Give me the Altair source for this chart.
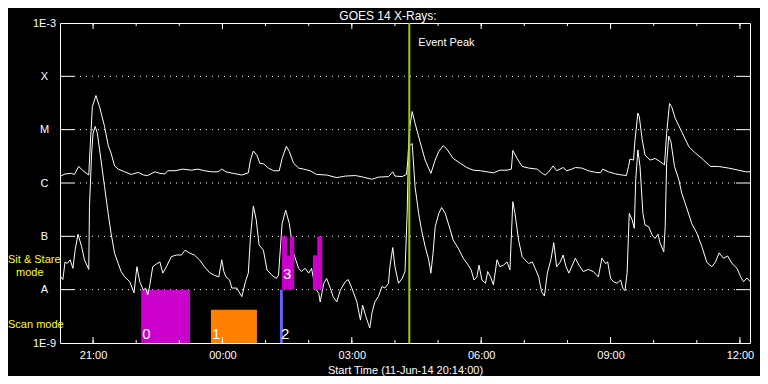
import altair as alt
import pandas as pd

FONT = "Liberation Sans"
W, H = 690, 320

# ---- GOES 14 long channel (1-8 A): minutes after 11-Jun-14 20:14, log10 flux (W/m^2)
long_min = [1, 7, 16, 20, 26, 32, 40, 42, 45, 50,
            55, 62, 67, 71, 76, 81, 90, 99, 109, 116,
            122, 132, 139, 146, 150, 160, 171, 183, 192, 201,
            211, 220, 225, 231, 241, 253, 262, 265, 269, 274,
            278, 283, 290, 297, 305, 309, 315, 319, 325, 332,
            339, 348, 357, 371, 385, 397, 411, 422, 434, 443,
            457, 463, 466, 476, 482, 484, 486, 490, 494, 501,
            508, 516, 522, 527, 533, 538, 547, 557, 566, 575,
            585, 594, 603, 612, 622, 628, 630, 636, 643, 652,
            664, 671, 675, 680, 686, 691, 700, 705, 712, 717,
            726, 735, 745, 752, 755, 763, 773, 782, 788, 791,
            793, 798, 800, 804, 806, 810, 814, 821, 828, 835,
            841, 844, 848, 851, 856, 865, 875, 884, 893, 905,
            916, 930, 944, 954, 960]
long_log = [-5.87, -5.83, -5.82, -5.84, -5.69, -5.77, -5.85, -5.32, -4.57, -4.36,
            -4.57, -4.94, -5.29, -5.44, -5.68, -5.74, -5.79, -5.84, -5.80, -5.85,
            -5.86, -5.79, -5.82, -5.83, -5.77, -5.77, -5.74, -5.76, -5.74, -5.77,
            -5.79, -5.79, -5.74, -5.79, -5.82, -5.85, -5.81, -5.57, -5.40, -5.48,
            -5.63, -5.64, -5.72, -5.77, -5.77, -5.54, -5.31, -5.41, -5.63, -5.72,
            -5.74, -5.77, -5.84, -5.85, -5.90, -5.87, -5.86, -5.89, -5.93, -5.89,
            -5.88, -5.79, -5.87, -5.88, -5.84, -5.57, -5.01, -4.66, -4.88, -5.23,
            -5.57, -5.82, -5.57, -5.41, -5.30, -5.36, -5.54, -5.63, -5.71, -5.76,
            -5.77, -5.79, -5.81, -5.76, -5.76, -5.74, -5.39, -5.54, -5.69, -5.72,
            -5.74, -5.82, -5.85, -5.79, -5.68, -5.77, -5.71, -5.77, -5.74, -5.71,
            -5.72, -5.77, -5.80, -5.81, -5.74, -5.79, -5.83, -5.85, -5.86, -5.69,
            -5.55, -5.57, -5.19, -4.69, -4.76, -5.19, -5.48, -5.57, -5.54, -5.60,
            -5.66, -5.07, -4.51, -4.57, -4.79, -5.04, -5.32, -5.44, -5.54, -5.69,
            -5.69, -5.72, -5.76, -5.79, -5.79]

# ---- GOES 14 short channel (0.5-4 A)
short_min = [1, 4, 7, 10, 14, 18, 21, 25, 30, 34,
             40, 41, 44, 46, 49, 52, 57, 62, 67, 71,
             76, 81, 85, 90, 97, 103, 107, 111, 116, 119,
             122, 125, 129, 134, 139, 143, 148, 155, 162, 169,
             174, 181, 187, 194, 201, 208, 215, 221, 225, 228,
             231, 236, 239, 246, 253, 258, 262, 265, 269, 273,
             277, 283, 288, 295, 301, 304, 309, 314, 319, 325,
             332, 336, 341, 346, 350, 355, 360, 362, 367, 371,
             376, 380, 385, 390, 397, 401, 406, 413, 418, 421,
             425, 431, 434, 438, 443, 448, 452, 457, 459, 463,
             466, 471, 476, 480, 483, 485, 490, 494, 499, 503,
             508, 513, 516, 519, 522, 527, 531, 536, 543, 547,
             554, 561, 568, 572, 576, 580, 583, 587, 592, 595,
             599, 603, 608, 612, 617, 622, 626, 630, 633, 638,
             643, 647, 652, 657, 661, 666, 670, 674, 678, 683,
             687, 691, 696, 700, 704, 708, 717, 722, 728, 735,
             742, 749, 754, 759, 762, 766, 770, 775, 780, 783,
             786, 789, 792, 796, 799, 801, 804, 807, 811, 814,
             819, 824, 828, 832, 835, 840, 842, 844, 847, 850,
             855, 861, 865, 872, 879, 886, 893, 900, 907, 912,
             917, 923, 929, 935, 942, 947, 951, 956, 960]
short_log = [-7.76, -7.81, -7.48, -7.51, -7.44, -7.60, -7.26, -6.96, -7.19, -7.44,
             -7.62, -6.44, -5.44, -5.07, -4.94, -5.07, -5.57, -6.07, -6.57, -6.94,
             -7.32, -7.51, -7.66, -7.76, -7.85, -8.06, -7.57, -7.85, -8.01, -7.97,
             -8.10, -7.91, -7.57, -7.52, -7.48, -7.69, -7.57, -7.38, -7.35, -7.35,
             -7.26, -7.32, -7.35, -7.44, -7.57, -7.68, -7.73, -7.76, -7.44, -7.66,
             -7.76, -7.82, -7.97, -7.97, -8.13, -7.85, -7.69, -7.01, -6.43, -6.69,
             -7.16, -7.26, -7.63, -7.73, -7.79, -7.73, -6.76, -6.51, -6.76, -7.32,
             -7.60, -7.66, -7.60, -7.69, -7.60, -7.97, -8.07, -8.23, -7.88, -7.79,
             -7.97, -8.13, -8.23, -8.01, -7.85, -7.81, -7.97, -8.23, -8.57, -8.29,
             -8.48, -8.72, -8.44, -8.23, -8.13, -7.94, -7.97, -7.88, -7.57, -7.21,
             -7.57, -7.88, -7.79, -7.66, -6.57, -5.32, -5.26, -6.07, -6.57, -6.88,
             -7.19, -7.44, -7.69, -7.32, -6.82, -6.57, -6.46, -6.57, -6.88, -7.07,
             -7.22, -7.41, -7.54, -7.63, -7.82, -7.76, -7.54, -7.82, -7.88, -7.66,
             -7.76, -7.91, -7.44, -7.57, -7.54, -7.48, -7.63, -6.35, -6.57, -7.07,
             -7.38, -7.44, -7.51, -7.48, -7.60, -7.76, -8.04, -8.12, -7.69, -7.44,
             -7.12, -7.57, -7.48, -7.35, -7.57, -7.69, -7.41, -7.54, -7.66, -7.62,
             -7.66, -7.76, -7.41, -7.51, -7.48, -7.79, -7.85, -7.88, -7.82, -7.97,
             -8.02, -7.69, -6.57, -6.69, -6.85, -5.94, -5.38, -5.69, -6.57, -6.79,
             -6.82, -6.98, -7.04, -6.96, -7.13, -7.29, -6.82, -5.63, -5.12, -5.23,
             -5.69, -5.94, -6.19, -6.47, -6.76, -6.94, -7.19, -7.49, -7.57, -7.48,
             -7.31, -7.41, -7.37, -7.51, -7.60, -7.76, -7.85, -7.78, -7.85]

# ---- observing blocks (minutes after start, flux bounds)
scan_ids = ["0", "1", "2"]
scan_start = [113, 210, 306]
scan_end = [181, 274, 310]
scan_top = [1e-8, 4.2e-9, 1e-8]
scan_bottom = [1e-9, 1e-9, 1e-9]

sit_ids = ["3", "", "", "", ""]
sit_start = [309, 316, 320, 352, 358]
sit_end = [316, 320, 326, 358, 365]
sit_top = [1e-7, 4.4e-8, 1e-7, 4.4e-8, 1e-7]
sit_bottom = [1e-8, 1e-8, 1e-8, 1e-8, 1e-8]

event_peak_min = [486]

# ---- axes
tick_minutes = [46, 226, 406, 586, 766, 946]
tick_labels = ["21:00", "00:00", "03:00", "06:00", "09:00", "12:00"]
hour_minutes = list(range(46, 961, 60))
decades = [1e-9, 1e-8, 1e-7, 1e-6, 1e-5, 1e-4, 1e-3]
decade_labels = ["1E-9", "A", "B", "C", "M", "X", "1E-3"]
inner_decades = decades[1:-1]

MAGENTA = "#cc00cc"
ORANGE = "#ff8000"
BLUE = "#6464ff"
GREEN = "#9acd00"
YELLOW = "#ffff00"

curves = pd.concat([
    pd.DataFrame({"minute": long_min, "flux": [10 ** v for v in long_log], "series": "long"}),
    pd.DataFrame({"minute": short_min, "flux": [10 ** v for v in short_log], "series": "short"}),
])
scan_df = pd.DataFrame({"id": scan_ids, "start": scan_start, "end": scan_end,
                        "top": scan_top, "bottom": scan_bottom})
sit_df = pd.DataFrame({"id": sit_ids, "start": sit_start, "end": sit_end,
                       "top": sit_top, "bottom": sit_bottom})
event_df = pd.DataFrame({"minute": event_peak_min, "label": ["Event Peak"]})
major_df = pd.DataFrame({"minute": tick_minutes})
hour_df = pd.DataFrame({"minute": hour_minutes})
dec_df = pd.DataFrame({"v": inner_decades})

x_scale = alt.Scale(domain=[0, 960], nice=False, zero=False)
y_scale = alt.Scale(type="log", domain=[1e-9, 1e-3], nice=False)

x_label_expr = " : ".join(f"datum.value == {m} ? '{l}'" for m, l in zip(tick_minutes, tick_labels)) + " : ''"
y_label_expr = "[" + ",".join(f"'{l}'" for l in decade_labels) + "][round(log(datum.value)/LN10) + 9]"

AX_X = alt.Axis(values=tick_minutes, labelExpr=x_label_expr,
                title="Start Time (11-Jun-14 20:14:00)",
                domain=False, ticks=False, grid=False, labelFlush=False,
                labelOverlap=False, labelColor="white", titleColor="white",
                labelFont=FONT, titleFont=FONT, labelFontSize=11, titleFontSize=11,
                titleFontWeight="normal", labelPadding=6, titlePadding=4)
AX_Y = alt.Axis(values=decades, labelExpr=y_label_expr, title=None,
                domain=False, ticks=False, grid=False, labelFlush=False,
                labelOverlap=False, labelAlign="center", labelBaseline="middle",
                labelPadding=16, labelColor="white", labelFont=FONT, labelFontSize=11)


def XF(f):
    return alt.X(f, type="quantitative", scale=x_scale, axis=AX_X)


def YF(f):
    return alt.Y(f, type="quantitative", scale=y_scale, axis=AX_Y)


curve_layer = alt.Chart(curves).mark_line(color="white", strokeWidth=1, clip=True).encode(
    x=XF("minute"), y=YF("flux"), detail="series:N")

scan_layer = alt.Chart(scan_df).mark_rect().encode(
    x=XF("start"), x2="end", y=YF("bottom"), y2="top",
    color=alt.Color("id:N", scale=alt.Scale(domain=scan_ids, range=[MAGENTA, ORANGE, BLUE]), legend=None),
)
sit_layer = alt.Chart(sit_df).mark_rect(color=MAGENTA).encode(
    x=XF("start"), x2="end", y=YF("bottom"), y2="top")
scan_text = alt.Chart(scan_df).mark_text(color="white", font=FONT, fontSize=15, align="left",
                                          baseline="alphabetic", dx=1, dy=-4).encode(
    x=XF("start"), y=YF("bottom"), text="id:N")
sit_text = alt.Chart(sit_df).mark_text(color="white", font=FONT, fontSize=15, align="left",
                                        baseline="alphabetic", dx=1, dy=-11).encode(
    x=XF("start"), y=YF("bottom"), text="id:N")

event_rule = alt.Chart(event_df).mark_rule(color=GREEN, strokeWidth=2).encode(x=XF("minute"))
event_text = alt.Chart(event_df).mark_text(color="white", font=FONT, fontSize=11, align="left",
                                           baseline="middle", dx=9).encode(
    x=XF("minute"), y=alt.value(20), text="label:N")

grid = alt.Chart(dec_df).mark_rule(color="white", strokeDash=[1, 5], strokeWidth=1).encode(
    y=YF("v"), x=alt.value(14), x2=alt.value(W - 14))
ytick_l = alt.Chart(dec_df).mark_rule(color="white").encode(y=YF("v"), x=alt.value(0), x2=alt.value(14))
ytick_r = alt.Chart(dec_df).mark_rule(color="white").encode(y=YF("v"), x=alt.value(W - 14), x2=alt.value(W))
xb_major = alt.Chart(major_df).mark_rule(color="white").encode(x=XF("minute"), y=alt.value(H - 6), y2=alt.value(H))
xb_minor = alt.Chart(hour_df).mark_rule(color="white").encode(x=XF("minute"), y=alt.value(H - 3), y2=alt.value(H))
xt_major = alt.Chart(major_df).mark_rule(color="white").encode(x=XF("minute"), y=alt.value(0), y2=alt.value(6))
xt_minor = alt.Chart(hour_df).mark_rule(color="white").encode(x=XF("minute"), y=alt.value(0), y2=alt.value(3))


def note(s, xv, yv, color, size, align="left"):
    return alt.Chart(pd.DataFrame({"t": [s]})).mark_text(
        color=color, font=FONT, fontSize=size, align=align, baseline="alphabetic").encode(
        text="t:N", x=alt.value(xv), y=alt.value(yv))


title_text = note("GOES 14 X-Rays:", W / 2 - 17, -3, "white", 12, "center")
mode_labels = [note("Sit & Stare", -52, 240, YELLOW, 11),
               note("mode", -44, 253, YELLOW, 11),
               note("Scan mode", -52, 305, YELLOW, 11)]

chart = alt.layer(
    grid, scan_layer, curve_layer, sit_layer, event_rule, scan_text, sit_text, event_text,
    ytick_l, ytick_r, xb_major, xb_minor, xt_major, xt_minor, title_text, *mode_labels,
).properties(
    width=W, height=H,
    autosize=alt.AutoSizeParams(type="none"),
    padding={"left": 52, "top": 15, "right": 10, "bottom": 33},
    background="black",
).configure_view(stroke="white", strokeWidth=1)

chart.save("out.html", embed_options={"renderer": "svg", "actions": False})
